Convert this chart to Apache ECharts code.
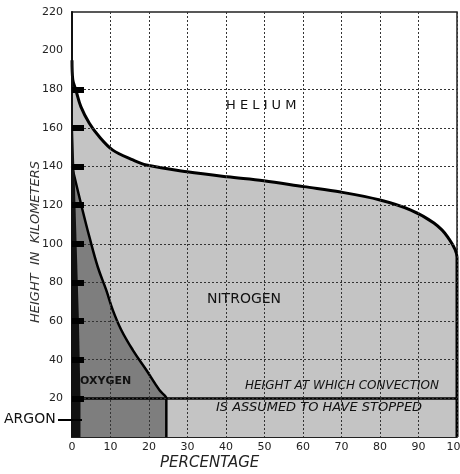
<!DOCTYPE html>
<html>
<head>
<meta charset="utf-8">
<script src="https://cdn.jsdelivr.net/npm/echarts@6/dist/echarts.min.js"></script>
<style>
  html, body { margin: 0; padding: 0; background: #fff; }
  #chart { width: 460px; height: 474px; }
</style>
</head>
<body>
<div id="chart"></div>
<script>
// percentage (x) vs height in km (y)
const heliumEdge = [[0, 195], [0.2, 185], [1, 179.6], [2.3, 171], [4.5, 162.4], [7.1, 155.4],
  [10.6, 148.5], [15.8, 143.4], [19.3, 140.8], [29.9, 137.3], [40.3, 134.7], [49.8, 132.7],
  [60.2, 129.6], [69.8, 126.8], [80, 122.7], [88, 117.5], [94, 110.8], [97.6, 103.5],
  [100, 93], [100, 0]];
const oxygenEdge = [[0, 140], [2.3, 121], [4.5, 103.7], [6.7, 88], [8.9, 76], [10.6, 65.7],
  [12.8, 55.4], [15.8, 45], [19.3, 34.7], [22.7, 24.3], [24.3, 21], [24.5, 20], [24.5, 0]];
const argonEdge = [[0, 178], [0.6, 140], [1.2, 100], [1.8, 60], [2.2, 20], [2.2, 0]];
const convectionHeight = 20;

const xTicks = [0, 10, 20, 30, 40, 50, 60, 70, 80, 90, 100];
const yTicks = [0, 20, 40, 60, 80, 100, 120, 140, 160, 180, 200, 220];
const blackTicks = [20, 40, 60, 80, 100, 120, 140, 160, 180];

const chart = echarts.init(document.getElementById('chart'));

const font = 'DejaVu Sans';

const option = {
  backgroundColor: '#fff',
  animation: false,
  grid: {
    left: 72, right: 3, top: 12, bottom: 37,
    outerBoundsMode: 'none',
    show: true, borderColor: '#222', borderWidth: 1.5
  },
  xAxis: {
    type: 'value',
    z: 10,
    min: xTicks[0], max: xTicks[xTicks.length - 1], interval: 10,
    axisLine: { show: true, lineStyle: { color: '#222', width: 1 } },
    axisTick: { show: false },
    axisLabel: { color: '#222', fontSize: 11, fontFamily: font, margin: 5 },
    splitLine: { show: true, lineStyle: { color: '#333', width: 1, type: [2, 2] } }
  },
  yAxis: {
    type: 'value',
    z: 10,
    min: yTicks[0], max: yTicks[yTicks.length - 1], interval: 20,
    axisLine: { show: true, lineStyle: { color: '#111', width: 2 } },
    axisTick: {
      show: true, inside: true, length: 12, customValues: blackTicks,
      lineStyle: { color: '#000', width: 6 }
    },
    axisLabel: {
      color: '#222', fontSize: 11, fontFamily: font, margin: 9,
      formatter: v => (v === 0 ? '' : String(v))
    },
    splitLine: { show: true, lineStyle: { color: '#333', width: 1, type: [2, 2] } }
  },
  series: [
    {
      name: 'Nitrogen',
      type: 'line',
      data: heliumEdge,
      smooth: 0.35,
      symbol: 'none',
      lineStyle: { color: '#000', width: 3 },
      areaStyle: { color: '#c4c4c4', opacity: 1 },
      z: 1
    },
    {
      name: 'Oxygen',
      type: 'line',
      data: oxygenEdge,
      smooth: 0.4,
      symbol: 'none',
      lineStyle: { color: '#000', width: 2.5 },
      areaStyle: { color: '#7e7e7e', opacity: 1 },
      z: 2,
      markLine: {
        silent: true,
        symbol: 'none',
        label: { show: false },
        lineStyle: { color: '#000', width: 2.5, type: 'solid' },
        data: [{ yAxis: convectionHeight }]
      }
    },
    {
      name: 'Argon',
      type: 'line',
      data: argonEdge,
      symbol: 'none',
      lineStyle: { width: 0 },
      areaStyle: { color: '#111', opacity: 1 },
      z: 3
    }
  ],
  graphic: [
    { type: 'text', left: 226, top: 99, z: 100,
      style: { text: 'H E L I U M', fill: '#111', font: '13px "DejaVu Sans"' } },
    { type: 'text', left: 207, top: 292, z: 100,
      style: { text: 'NITROGEN', fill: '#111', font: '14px "DejaVu Sans"' } },
    { type: 'text', left: 80, top: 376, z: 100,
      style: { text: 'OXYGEN', fill: '#111', font: 'bold 11px "DejaVu Sans"' } },
    { type: 'text', left: 245, top: 380, z: 100,
      style: { text: 'HEIGHT AT WHICH CONVECTION', fill: '#111', font: 'italic 12px "DejaVu Sans"' } },
    { type: 'text', left: 216, top: 401, z: 100,
      style: { text: 'IS ASSUMED TO HAVE STOPPED', fill: '#111', font: 'italic 13px "DejaVu Sans"' } },
    { type: 'text', left: 4, top: 412, z: 100,
      style: { text: 'ARGON', fill: '#111', font: '14px "DejaVu Sans"' } },
    { type: 'line', z: 100,
      shape: { x1: 58, y1: 420, x2: 82, y2: 420 },
      style: { stroke: '#000', lineWidth: 2 } },
    { type: 'text', x: 36, y: 242, rotation: Math.PI / 2, z: 100,
      style: {
        text: 'HEIGHT  IN  KILOMETERS', fill: '#333', font: 'italic 13px "DejaVu Sans"',
        align: 'center', verticalAlign: 'middle'
      } },
    { type: 'text', left: 160, top: 456, z: 100,
      style: { text: 'PERCENTAGE', fill: '#222', font: 'italic 15px "DejaVu Sans"' } }
  ]
};

chart.setOption(option);
</script>
</body>
</html>
